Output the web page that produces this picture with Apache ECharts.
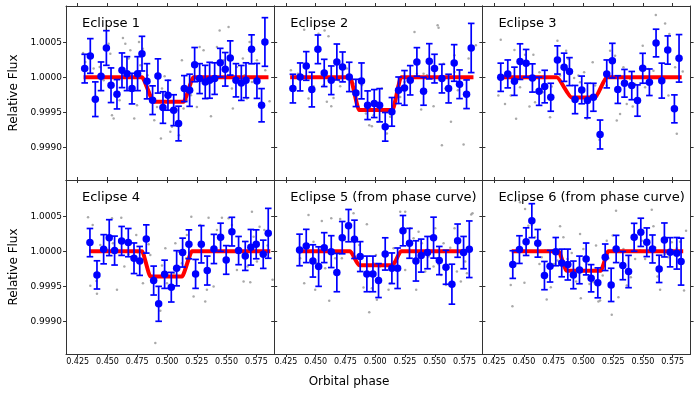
<!DOCTYPE html>
<html>
<head>
<meta charset="utf-8">
<script src="https://cdn.jsdelivr.net/npm/echarts@6/dist/echarts.min.js"></script>
<style>
  html, body { margin: 0; padding: 0; background: #fff; }
  #chart { width: 698px; height: 399px; }
</style>
</head>
<body>
<div id="chart"></div>
<script>
// tick labels
var xTicks = [0.425, 0.450, 0.475, 0.500, 0.525, 0.550, 0.575];
var yTicks = [0.9990, 0.9995, 1.0000, 1.0005];
var titles = ['Eclipse 1', 'Eclipse 2', 'Eclipse 3', 'Eclipse 4',
  'Eclipse 5 (from phase curve)', 'Eclipse 6 (from phase curve)'];

// binned points: phase, flux offset (ppm), error (ppm)
var binPhase1 = [0.4309, 0.4356, 0.4398, 0.4446, 0.4491, 0.4530, 0.4580, 0.4622, 0.4664, 0.4706, 0.4753, 0.4790, 0.4832, 0.4879, 0.4924, 0.4966, 0.5008, 0.5056, 0.5097, 0.5145, 0.5190, 0.5232, 0.5274, 0.5321, 0.5358, 0.5400, 0.5447, 0.5489, 0.5531, 0.5579, 0.5624, 0.5663, 0.5710, 0.5755, 0.5794, 0.5822];
var binFlux1 = [124, 305, -314, 14, 419, -114, -243, 100, 52, -162, 52, 338, -57, -328, 19, -433, -257, -471, -662, -162, -186, 181, -19, -67, -43, -19, 209, 114, 276, -43, -81, -43, 400, -52, -400, 505];
var binErr1 = [205, 248, 248, 205, 248, 248, 210, 248, 243, 219, 243, 248, 252, 205, 245, 226, 214, 221, 248, 186, 230, 245, 214, 238, 257, 226, 205, 240, 245, 238, 250, 250, 207, 250, 238, 348];

var binPhase2 = [0.4309, 0.4370, 0.4421, 0.4468, 0.4519, 0.4572, 0.4631, 0.4678, 0.4726, 0.4782, 0.4838, 0.4885, 0.4936, 0.4992, 0.5037, 0.5084, 0.5140, 0.5196, 0.5246, 0.5294, 0.5350, 0.5406, 0.5454, 0.5498, 0.5560, 0.5616, 0.5663, 0.5708, 0.5767, 0.5806];
var binFlux2 = [-162, 5, 162, -176, 400, 62, -43, 219, 148, 5, -224, -52, -400, -376, -400, -709, -495, -186, -152, -43, 219, -200, 229, 124, -19, -162, 205, -100, -243, 419];
var binErr2 = [205, 200, 205, 248, 205, 195, 205, 257, 214, 210, 195, 257, 205, 200, 238, 205, 205, 190, 248, 210, 205, 200, 252, 205, 205, 205, 262, 205, 205, 352];

var binPhase3 = [0.4306, 0.4365, 0.4421, 0.4468, 0.4519, 0.4572, 0.4628, 0.4675, 0.4726, 0.4782, 0.4838, 0.4883, 0.4930, 0.4986, 0.5034, 0.5084, 0.5140, 0.5196, 0.5243, 0.5289, 0.5345, 0.5406, 0.5454, 0.5498, 0.5554, 0.5610, 0.5658, 0.5708, 0.5764, 0.5803];
var binFlux3 = [0, 48, -57, 224, 200, -10, -200, -133, -286, 248, 143, 81, -319, -181, -333, -286, -819, 48, 238, -176, -86, -119, -333, 129, -71, 490, -48, 390, -452, 271];
var binErr3 = [202, 200, 202, 255, 198, 202, 202, 233, 200, 202, 202, 200, 202, 198, 248, 200, 207, 200, 248, 198, 198, 202, 224, 214, 190, 198, 250, 202, 200, 340];

var binPhase4 = [0.4353, 0.4412, 0.4468, 0.4515, 0.4560, 0.4619, 0.4675, 0.4723, 0.4771, 0.4826, 0.4888, 0.4930, 0.4980, 0.5036, 0.5081, 0.5131, 0.5184, 0.5240, 0.5288, 0.5338, 0.5394, 0.5450, 0.5497, 0.5545, 0.5601, 0.5657, 0.5704, 0.5749, 0.5808, 0.5850];
var binFlux4 = [124, -338, 29, 195, 10, 148, 124, -100, -138, 176, -419, -752, -329, -514, -243, -19, 100, -324, 100, -276, 33, 200, -124, 281, 10, -67, 57, 100, -43, 257];
var binErr4 = [202, 202, 209, 257, 207, 207, 202, 219, 207, 202, 207, 250, 202, 212, 252, 207, 207, 207, 267, 207, 209, 202, 205, 205, 202, 207, 255, 207, 202, 357];

var binPhase5 = [0.4365, 0.4421, 0.4477, 0.4525, 0.4572, 0.4631, 0.4678, 0.4723, 0.4776, 0.4826, 0.4874, 0.4930, 0.4981, 0.5028, 0.5084, 0.5140, 0.5188, 0.5233, 0.5288, 0.5342, 0.5386, 0.5439, 0.5490, 0.5538, 0.5594, 0.5644, 0.5692, 0.5742, 0.5790];
var binFlux5 = [19, 76, -138, -219, 52, -5, -305, 195, 367, 171, -76, -324, -324, -419, -38, -243, -243, 295, 114, -138, -62, -19, 195, -133, -229, -471, 152, -19, 29];
var binErr5 = [226, 238, 231, 283, 214, 228, 274, 231, 231, 274, 214, 255, 255, 243, 231, 219, 290, 217, 214, 288, 236, 231, 293, 202, 243, 286, 238, 231, 405];

var binPhase6 = [0.4407, 0.4463, 0.4519, 0.4567, 0.4617, 0.4673, 0.4720, 0.4768, 0.4818, 0.4869, 0.4916, 0.4967, 0.5023, 0.5065, 0.5121, 0.5183, 0.5233, 0.5275, 0.5331, 0.5379, 0.5426, 0.5482, 0.5532, 0.5580, 0.5636, 0.5680, 0.5728, 0.5784, 0.5820];
var binFlux6 = [-190, 24, 138, 438, 114, -348, -214, -5, -167, -190, -338, -267, -110, -386, -452, -86, -481, 33, -205, -290, 200, 271, 129, 33, -252, 162, -14, -29, -148];
var binErr6 = [198, 198, 198, 243, 198, 202, 226, 202, 198, 221, 198, 198, 228, 195, 214, 190, 238, 195, 202, 231, 200, 202, 205, 200, 195, 243, 209, 226, 336];

// unbinned points: phase, flux offset (ppm)
var rawPhase1 = [0.4295, 0.4314, 0.4384, 0.4435, 0.4468, 0.4510, 0.4524, 0.4538, 0.4552, 0.4594, 0.4602, 0.4630, 0.4650, 0.4678, 0.4692, 0.4725, 0.4748, 0.4765, 0.4776, 0.4798, 0.4837, 0.4860, 0.4893, 0.4916, 0.4949, 0.4958, 0.4980, 0.5011, 0.5028, 0.5042, 0.5083, 0.5100, 0.5125, 0.5139, 0.5167, 0.5201, 0.5251, 0.5274, 0.5307, 0.5349, 0.5369, 0.5419, 0.5442, 0.5475, 0.5517, 0.5545, 0.5553, 0.5587, 0.5637, 0.5651, 0.5671, 0.5693, 0.5713, 0.5755, 0.5825, 0.5861];
var rawFlux1 = [347, 219, 124, 148, -43, 481, 338, -543, -590, -209, -329, 562, 481, 267, 386, -590, -400, 505, 171, 409, 29, -281, -614, -424, -876, -162, 14, -43, -781, -709, -471, -828, 243, -447, -328, -257, -424, 433, 386, -90, -557, 433, 671, 243, 719, -162, -447, 148, 267, 29, -305, 505, -67, 243, 100, -343];

var rawPhase2 = [0.4292, 0.4351, 0.4404, 0.4440, 0.4482, 0.4524, 0.4566, 0.4575, 0.4608, 0.4594, 0.4631, 0.4650, 0.4692, 0.4706, 0.4762, 0.4818, 0.4888, 0.4922, 0.4950, 0.4972, 0.4986, 0.5023, 0.5056, 0.5098, 0.5126, 0.5190, 0.5210, 0.5246, 0.5294, 0.5330, 0.5350, 0.5386, 0.5406, 0.5434, 0.5490, 0.5524, 0.5532, 0.5560, 0.5574, 0.5588, 0.5636, 0.5666, 0.5666, 0.5694, 0.5742, 0.5756, 0.5784, 0.5845];
var rawFlux2 = [100, 52, 681, -305, -129, 624, -114, 671, 586, -352, -414, -295, -43, -129, 124, -90, -114, -519, -686, -700, -543, -638, -162, -804, -566, -129, -281, -67, -90, 647, 52, -462, 52, 29, -414, 743, 709, -971, 195, -162, -638, 314, 76, -186, -962, -233, 267, 457];

var rawPhase3 = [0.4286, 0.4306, 0.4342, 0.4390, 0.4421, 0.4435, 0.4468, 0.4510, 0.4547, 0.4580, 0.4594, 0.4631, 0.4659, 0.4692, 0.4720, 0.4734, 0.4782, 0.4804, 0.4855, 0.4874, 0.4922, 0.4958, 0.4972, 0.5006, 0.5028, 0.5078, 0.5098, 0.5134, 0.5154, 0.5196, 0.5224, 0.5266, 0.5280, 0.5308, 0.5336, 0.5364, 0.5392, 0.5414, 0.5434, 0.5498, 0.5518, 0.5546, 0.5588, 0.5608, 0.5686, 0.5722, 0.5714, 0.5770, 0.5784, 0.5834];
var rawFlux3 = [-262, 538, -381, -262, 390, -595, -143, 324, -419, 324, -357, 71, -214, -10, -571, -133, 524, 24, 381, 262, -10, 24, -71, 71, -595, 214, -119, -895, -809, -119, 381, 309, -619, -524, 143, -381, -24, -419, -95, 452, -143, 119, 95, 890, 771, 619, -262, 143, -809, 81];

var rawPhase4 = [0.4337, 0.4356, 0.4376, 0.4407, 0.4412, 0.4440, 0.4491, 0.4538, 0.4546, 0.4580, 0.4616, 0.4642, 0.4678, 0.4714, 0.4742, 0.4756, 0.4798, 0.4846, 0.4860, 0.4902, 0.4944, 0.4958, 0.4986, 0.5000, 0.5056, 0.5070, 0.5097, 0.5125, 0.5162, 0.5167, 0.5204, 0.5223, 0.5279, 0.5321, 0.5335, 0.5349, 0.5391, 0.5419, 0.5442, 0.5461, 0.5497, 0.5517, 0.5545, 0.5559, 0.5587, 0.5643, 0.5676, 0.5699, 0.5713, 0.5727, 0.5755, 0.5777, 0.5797, 0.5817, 0.5844, 0.5886];
var rawFlux4 = [486, -495, 376, -424, -609, 90, 33, 471, 114, -552, 481, -219, -43, 5, 233, -14, -457, 100, -52, -1314, -852, -205, 43, -457, -314, 114, -5, -171, -100, 233, 495, -647, 376, -719, -552, 481, -505, 305, 162, 481, -138, 471, 376, -5, -267, -433, -219, -443, 567, 209, -148, 352, -52, 305, 81, -409];

var rawPhase5 = [0.4370, 0.4404, 0.4440, 0.4482, 0.4496, 0.4510, 0.4552, 0.4580, 0.4614, 0.4631, 0.4664, 0.4706, 0.4720, 0.4743, 0.4818, 0.4832, 0.4866, 0.4902, 0.4930, 0.4950, 0.4972, 0.4986, 0.5006, 0.5014, 0.5042, 0.5078, 0.5112, 0.5126, 0.5154, 0.5210, 0.5252, 0.5252, 0.5294, 0.5322, 0.5344, 0.5364, 0.5392, 0.5420, 0.5448, 0.5490, 0.5504, 0.5532, 0.5554, 0.5574, 0.5594, 0.5630, 0.5666, 0.5686, 0.5719, 0.5756, 0.5770, 0.5806, 0.5817];
var rawFlux5 = [-100, -457, 519, 138, -552, -171, 433, -243, -709, 471, -100, 462, -100, 162, 543, 148, 90, -519, 386, -871, -528, -171, -52, -695, -219, -76, -552, -457, 43, 566, 566, -267, 328, 186, -552, 281, 114, -290, -76, -219, 328, -186, -338, 114, -481, 52, 328, -290, -433, -148, -314, 528, 543];

var rawPhase6 = [0.4390, 0.4404, 0.4426, 0.4468, 0.4505, 0.4510, 0.4538, 0.4566, 0.4594, 0.4631, 0.4650, 0.4678, 0.4692, 0.4726, 0.4754, 0.4782, 0.4804, 0.4832, 0.4866, 0.4902, 0.4939, 0.4972, 0.4978, 0.5000, 0.5028, 0.5051, 0.5084, 0.5106, 0.5126, 0.5140, 0.5162, 0.5196, 0.5210, 0.5238, 0.5246, 0.5274, 0.5294, 0.5336, 0.5364, 0.5398, 0.5434, 0.5476, 0.5490, 0.5518, 0.5574, 0.5588, 0.5602, 0.5622, 0.5644, 0.5686, 0.5714, 0.5742, 0.5784, 0.5812, 0.5845, 0.5862];
var rawFlux6 = [-481, -785, 724, 700, -452, 605, 367, 376, 200, -181, -86, 10, -690, -514, -181, -133, 357, 200, -110, -24, -433, 248, -671, 33, -181, -467, -443, 81, -719, -705, -348, 152, -100, -909, 224, 581, -657, 33, -490, -371, -110, 10, 152, -110, 595, 357, 57, -362, -552, -38, -86, 129, 43, 138, -562, 295];

// eclipse model: phase, flux offset (ppm)
var modelPhase1 = [0.4300, 0.4790, 0.4888, 0.5139, 0.5223, 0.5852];
var modelFlux1 = [0, 0, -350, -350, 0, 0];
var modelPhase2 = [0.4286, 0.4789, 0.4865, 0.5145, 0.5217, 0.5825];
var modelFlux2 = [0, 0, -470, -470, 0, 0];
var modelPhase3 = [0.4315, 0.4776, 0.4902, 0.5098, 0.5196, 0.5825];
var modelFlux3 = [0, 0, -290, -290, 0, 0];
var modelPhase4 = [0.4345, 0.4790, 0.4860, 0.5126, 0.5210, 0.5867];
var modelFlux4 = [0, 0, -360, -360, 0, 0];
var modelPhase5 = [0.4383, 0.4790, 0.4865, 0.5146, 0.5217, 0.5768];
var modelFlux5 = [0, 0, -200, -200, 0, 0];
var modelPhase6 = [0.4398, 0.4790, 0.4860, 0.5145, 0.5209, 0.5838];
var modelFlux6 = [0, 0, -280, -280, 0, 0];

var panels = [
  [binPhase1, binFlux1, binErr1, rawPhase1, rawFlux1, modelPhase1, modelFlux1],
  [binPhase2, binFlux2, binErr2, rawPhase2, rawFlux2, modelPhase2, modelFlux2],
  [binPhase3, binFlux3, binErr3, rawPhase3, rawFlux3, modelPhase3, modelFlux3],
  [binPhase4, binFlux4, binErr4, rawPhase4, rawFlux4, modelPhase4, modelFlux4],
  [binPhase5, binFlux5, binErr5, rawPhase5, rawFlux5, modelPhase5, modelFlux5],
  [binPhase6, binFlux6, binErr6, rawPhase6, rawFlux6, modelPhase6, modelFlux6]
];

function flux(ppm) { return 1 + ppm * 1e-6; }

var chart = echarts.init(document.getElementById('chart'));

var font = 'DejaVu Sans';
var axisColor = '#333';
var xMin = 0.4152, xMax = 0.5900;
var yMin = 0.99853, yMax = 1.00102;
var panelW = 208.2, panelH = 174;
var panelTop = [6, 180];

var grids = [], xAxes = [], yAxes = [], series = [], titleList = [];

panels.forEach(function (p, i) {
  var col = i % 3, row = Math.floor(i / 3);
  var left = 66 + col * panelW;
  grids.push({ left: left, top: panelTop[row], width: panelW, height: panelH });

  var tick = { show: true, inside: false, length: 3, customValues: xTicks, lineStyle: { color: axisColor } };
  xAxes.push({
    gridIndex: i, type: 'value', min: xMin, max: xMax, position: 'bottom',
    axisLine: { show: true, onZero: false, lineStyle: { color: axisColor, width: 1 } },
    axisTick: tick,
    axisLabel: {
      show: row === 1, customValues: xTicks, margin: 4, fontSize: 8, color: '#000', fontFamily: font,
      formatter: function (v) { return v.toFixed(3); }
    },
    splitLine: { show: false }
  });
  xAxes.push({
    gridIndex: i, type: 'value', min: xMin, max: xMax, position: 'top',
    axisLine: { show: true, onZero: false, lineStyle: { color: axisColor, width: 1 } },
    axisTick: tick, axisLabel: { show: false }, splitLine: { show: false }
  });

  var ytick = { show: true, inside: false, length: 3, customValues: yTicks, lineStyle: { color: axisColor } };
  yAxes.push({
    gridIndex: i, type: 'value', min: yMin, max: yMax, position: 'left',
    axisLine: { show: true, onZero: false, lineStyle: { color: axisColor, width: 1 } },
    axisTick: ytick,
    axisLabel: {
      show: col === 0, customValues: yTicks, margin: 4, fontSize: 9, color: '#000', fontFamily: font,
      formatter: function (v) { return v.toFixed(4); }
    },
    splitLine: { show: false },
    name: col === 0 ? 'Relative Flux' : '',
    nameLocation: 'middle', nameGap: 46,
    nameTextStyle: { fontSize: 12, color: '#000', fontFamily: font }
  });
  yAxes.push({
    gridIndex: i, type: 'value', min: yMin, max: yMax, position: 'right',
    axisLine: { show: true, onZero: false, lineStyle: { color: axisColor, width: 1 } },
    axisTick: ytick, axisLabel: { show: false }, splitLine: { show: false }
  });

  var raw = p[3].map(function (x, k) { return [x, flux(p[4][k])]; });
  var bins = p[0].map(function (x, k) { return [x, flux(p[1][k]), p[2][k] * 1e-6]; });
  var model = p[5].map(function (x, k) { return [x, flux(p[6][k])]; });

  series.push({
    type: 'scatter', xAxisIndex: 2 * i, yAxisIndex: 2 * i, data: raw,
    symbolSize: 2.5, itemStyle: { color: '#8c8c8c', opacity: 0.75 }, silent: true, z: 1
  });
  series.push({
    type: 'line', xAxisIndex: 2 * i, yAxisIndex: 2 * i, data: model,
    showSymbol: false, smooth: 0.2, smoothMonotone: 'x',
    lineStyle: { color: '#ff0000', width: 4 }, silent: true, z: 2
  });
  series.push({
    type: 'custom', xAxisIndex: 2 * i, yAxisIndex: 2 * i, data: bins, z: 3,
    renderItem: function (params, api) {
      var x = api.value(0), y = api.value(1), e = api.value(2);
      var a = api.coord([x, y + e]), b = api.coord([x, y - e]);
      var hw = 3.3;
      var st = { stroke: '#0000ff', lineWidth: 1.7 };
      return {
        type: 'group', children: [
          { type: 'line', shape: { x1: a[0], y1: a[1], x2: b[0], y2: b[1] }, style: st },
          { type: 'line', shape: { x1: a[0] - hw, y1: a[1], x2: a[0] + hw, y2: a[1] }, style: st },
          { type: 'line', shape: { x1: b[0] - hw, y1: b[1], x2: b[0] + hw, y2: b[1] }, style: st }
        ]
      };
    },
    encode: { x: 0, y: 1 }
  });
  series.push({
    type: 'scatter', xAxisIndex: 2 * i, yAxisIndex: 2 * i, data: bins,
    symbolSize: 7.5, itemStyle: { color: '#0000ff', opacity: 1 }, z: 4
  });

  titleList.push({
    text: titles[i], left: left + 11, top: panelTop[row] + 6,
    textStyle: { fontSize: 13, fontWeight: 'normal', color: '#000', fontFamily: font }
  });
});

var option = {
  animation: false,
  title: titleList,
  grid: grids,
  xAxis: xAxes,
  yAxis: yAxes,
  series: series,
  graphic: [{
    type: 'text', left: 'center', top: 376,
    style: { text: 'Orbital phase', fontSize: 12, fill: '#000', fontFamily: font }
  }]
};

chart.setOption(option);
window.addEventListener('resize', function () {
  chart.resize();
});
</script>
</body>
</html>
